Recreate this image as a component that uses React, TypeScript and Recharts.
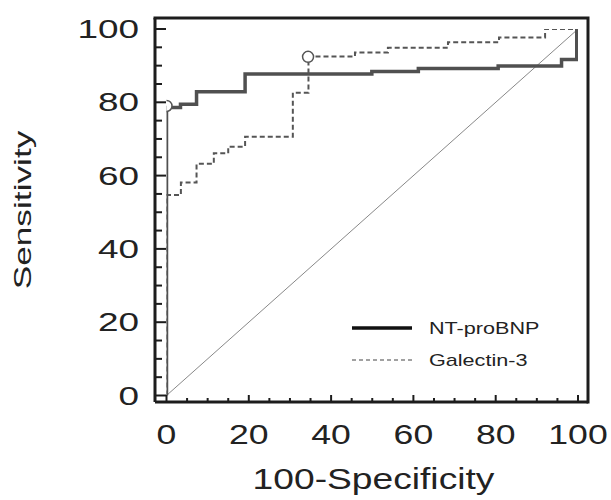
import React from 'react';
import { ComposedChart, Line, Scatter, XAxis, YAxis, Legend } from 'recharts';

const FONT = '"Liberation Sans", Arial, Helvetica, sans-serif';
const INK = '#1c1c1c';

// ROC corner points (x = 100-Specificity, y = Sensitivity)
const ntProBnpRoc = [
  { x: 0, y: 0 }, { x: 0, y: 78.6 }, { x: 3.4, y: 78.6 }, { x: 3.4, y: 79.5 },
  { x: 7.3, y: 79.5 }, { x: 7.3, y: 82.9 }, { x: 19.1, y: 82.9 }, { x: 19.1, y: 87.7 },
  { x: 49.9, y: 87.7 }, { x: 49.9, y: 88.4 }, { x: 61.2, y: 88.4 }, { x: 61.2, y: 89.2 },
  { x: 80.6, y: 89.2 }, { x: 80.6, y: 89.9 }, { x: 96, y: 89.9 }, { x: 96, y: 91.7 },
  { x: 99.7, y: 91.7 }, { x: 99.7, y: 100 },
];

const galectinRoc = [
  { x: 0, y: 0 }, { x: 0, y: 54.7 }, { x: 3.5, y: 54.7 }, { x: 3.5, y: 58.1 },
  { x: 7.3, y: 58.1 }, { x: 7.3, y: 63.2 }, { x: 11.5, y: 63.2 }, { x: 11.5, y: 66.1 },
  { x: 15, y: 66.1 }, { x: 15, y: 67.9 }, { x: 19.1, y: 67.9 }, { x: 19.1, y: 70.6 },
  { x: 30.7, y: 70.6 }, { x: 30.7, y: 82.6 }, { x: 34.5, y: 82.6 }, { x: 34.5, y: 92.5 },
  { x: 45.8, y: 92.5 }, { x: 45.8, y: 93.6 }, { x: 53.8, y: 93.6 }, { x: 53.8, y: 94.9 },
  { x: 68.4, y: 94.9 }, { x: 68.4, y: 96.4 }, { x: 80.8, y: 96.4 }, { x: 80.8, y: 97.7 },
  { x: 92, y: 97.7 }, { x: 92, y: 100 }, { x: 100, y: 100 },
];

const chanceLine = [{ x: 0, y: 0 }, { x: 100, y: 100 }];

// optimal cut-off points (open circles)
const ntProBnpCutoff = [{ x: 0, y: 79 }];
const galectinCutoff = [{ x: 34.4, y: 92.4 }];

const xTicks = [0, 5, 10, 15, 20, 25, 30, 35, 40, 45, 50, 55, 60, 65, 70, 75, 80, 85, 90, 95, 100];
const yTicks = [0, 5, 10, 15, 20, 25, 30, 35, 40, 45, 50, 55, 60, 65, 70, 75, 80, 85, 90, 95, 100];

const LEGEND_ORDER = ['NT-proBNP', 'Galectin-3'];
const LEGEND_STYLE: Record<string, { stroke: string; width: number; dash?: string }> = {
  'NT-proBNP': { stroke: '#111', width: 3.5 },
  'Galectin-3': { stroke: '#444', width: 1.2, dash: '4 3' },
};

const MARGIN = { top: 18, right: 23, bottom: 68, left: 95 };
const FRAME_W = 3;

// the source figure uses wide lettering, so text is stretched along its baseline
const Wide = ({ x, y, sx, size, anchor = 'middle', rotate = 0, children }: any) => (
  <text
    transform={`translate(${x},${y}) rotate(${rotate}) scale(${sx},1)`}
    textAnchor={anchor}
    fontSize={size}
    fontFamily={FONT}
    fill="#222"
  >
    {children}
  </text>
);

const YTick = ({ x, y, payload }: any) => {
  const major = payload.value % 20 === 0;
  return (
    <g>
      <line x1={x} x2={x + (major ? 11 : 7)} y1={y} y2={y} stroke={INK} strokeWidth={2} />
      {major && (
        <Wide x={x - 16} y={y + 9} sx={1.42} size={26} anchor="end">
          {payload.value}
        </Wide>
      )}
    </g>
  );
};

const XTick = ({ x, y, payload }: any) => {
  const major = payload.value % 20 === 0;
  return (
    <g>
      <line x1={x} x2={x} y1={y} y2={y - (major ? 7 : 4)} stroke={INK} strokeWidth={2} />
      {major && (
        <Wide x={x} y={y + 42} sx={1.32} size={27}>
          {payload.value}
        </Wide>
      )}
    </g>
  );
};

// x-axis title; also closes the plot box (right and top edges) from the axis viewBox
const XTitle = ({ viewBox }: any) => {
  const vb = viewBox || { x: 155, y: 402, width: 433 };
  const left = vb.x;
  const right = vb.x + vb.width;
  const bottom = vb.y;
  const top = MARGIN.top;
  return (
    <g>
      <path
        d={`M${right},${bottom} L${right},${top} L${left},${top}`}
        fill="none"
        stroke={INK}
        strokeWidth={FRAME_W}
        strokeLinecap="square"
      />
      <Wide x={vb.x + vb.width / 2 + 2} y={vb.y + 87} sx={1.24} size={30}>
        100-Specificity
      </Wide>
    </g>
  );
};

const YTitle = ({ viewBox }: any) => {
  const vb = viewBox || { x: 95, y: 18, height: 384 };
  return (
    <Wide x={vb.x - 64} y={vb.y + vb.height / 2} sx={1.47} size={24} rotate={-90}>
      Sensitivity
    </Wide>
  );
};

const LegendBox = ({ payload }: any) => {
  const items = (payload || [])
    .filter((e: any) => LEGEND_ORDER.includes(e.value))
    .sort((a: any, b: any) => LEGEND_ORDER.indexOf(a.value) - LEGEND_ORDER.indexOf(b.value));
  return (
    <svg width={250} height={70} style={{ display: 'block' }}>
      {items.map((entry: any, i: number) => {
        const s = LEGEND_STYLE[entry.value];
        const cy = 18 + i * 32;
        return (
          <g key={entry.value}>
            <line x1={12} x2={72} y1={cy} y2={cy} stroke={s.stroke} strokeWidth={s.width} strokeDasharray={s.dash} />
            <Wide x={89} y={cy + 6} sx={1.35} size={16} anchor="start">
              {entry.value}
            </Wide>
          </g>
        );
      })}
    </svg>
  );
};

const Ring = ({ cx, cy }: any) => (
  <circle cx={cx} cy={cy} r={5.5} fill="#fff" stroke="#555" strokeWidth={1.5} />
);

export default function App() {
  return (
    <div style={{ position: 'absolute', left: 0, top: 0, width: 611, height: 500, background: '#fff' }}>
      <ComposedChart width={611} height={500} margin={MARGIN}>
        <XAxis
          dataKey="x"
          type="number"
          domain={[0, 100]}
          ticks={xTicks}
          interval={0}
          padding={{ left: 11.5, right: 10 }}
          height={30}
          tickSize={0}
          tickMargin={0}
          tick={<XTick />}
          axisLine={{ stroke: INK, strokeWidth: FRAME_W }}
          label={<XTitle />}
          allowDataOverflow
        />
        <YAxis
          type="number"
          domain={[0, 100]}
          ticks={yTicks}
          interval={0}
          padding={{ top: 11, bottom: 6.5 }}
          width={60}
          tickSize={0}
          tickMargin={0}
          tick={<YTick />}
          axisLine={{ stroke: INK, strokeWidth: FRAME_W }}
          label={<YTitle />}
          allowDataOverflow
        />
        <Legend
          layout="vertical"
          verticalAlign="middle"
          align="center"
          content={<LegendBox />}
          wrapperStyle={{ left: 340, top: 310, width: 250, height: 70 }}
        />
        <Line
          data={chanceLine}
          dataKey="y"
          name="chance"
          stroke="#888"
          strokeWidth={1}
          dot={false}
          legendType="none"
          isAnimationActive={false}
        />
        <Line
          data={ntProBnpRoc}
          dataKey="y"
          name="NT-proBNP"
          stroke="#505050"
          strokeWidth={3.5}
          dot={false}
          isAnimationActive={false}
        />
        <Line
          data={galectinRoc}
          dataKey="y"
          name="Galectin-3"
          stroke="#555"
          strokeWidth={2}
          strokeDasharray="5 3"
          dot={false}
          isAnimationActive={false}
        />
        <Scatter data={ntProBnpCutoff} dataKey="y" shape={<Ring />} legendType="none" isAnimationActive={false} />
        <Scatter data={galectinCutoff} dataKey="y" shape={<Ring />} legendType="none" isAnimationActive={false} />
      </ComposedChart>
    </div>
  );
}
